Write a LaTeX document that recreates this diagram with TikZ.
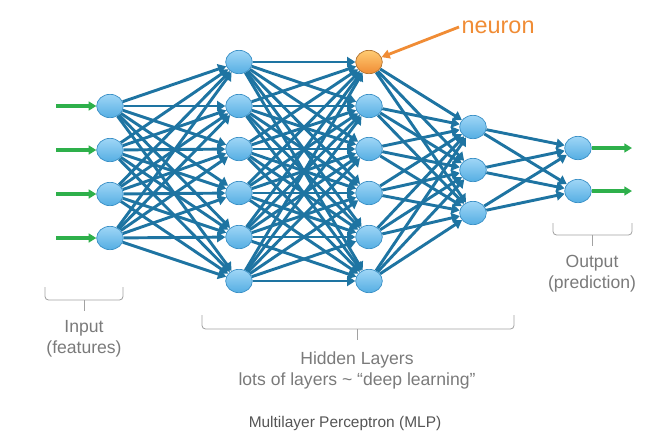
\documentclass[tikz,border=0pt]{standalone}
\usepackage{fontspec}
\setmainfont{Liberation Sans}
\setsansfont{Liberation Sans}
\usepackage{xcolor}
\usetikzlibrary{arrows.meta,positioning,backgrounds,shapes.geometric}
\definecolor{mlpedge}{HTML}{1E74A2}
\definecolor{mlprim}{HTML}{3A90C6}
\definecolor{mlptop}{HTML}{9FD6F6}
\definecolor{mlpbot}{HTML}{55AEE3}
\definecolor{mlpamber}{HTML}{F08C35}
\definecolor{mlpgold}{HTML}{FFCB72}
\definecolor{mlprust}{HTML}{B37431}
\definecolor{mlpgreen}{HTML}{2EB04B}
\definecolor{mlpgray}{HTML}{7A7A7A}
\definecolor{mlpcap}{HTML}{555555}

\begin{document}
\begin{tikzpicture}[x=0.03cm,y=-0.03cm,
  font=\sffamily,
  neuron/.style={ellipse,draw=mlprim,line width=0.6pt,top color=mlptop,
                 bottom color=mlpbot,minimum width=0.8cm,minimum height=0.7cm,
                 inner sep=0pt},
  hot/.style={neuron,draw=mlprust,top color=mlpgold,bottom color=mlpamber},
  link/.style={draw=mlpedge,line width=2.5pt,-{Triangle[length=7pt,width=8.5pt]}},
  feed/.style={draw=mlpgreen,line width=2.6pt,-{Triangle[length=6.5pt,width=7.5pt]}},
  pointer/.style={draw=mlpamber,line width=2.4pt,-{Triangle[length=7pt,width=7.5pt]}},
  brace/.style={draw=mlpgray!70,line width=0.7pt,rounded corners=3pt},
  lbl/.style={text=mlpgray,font=\sffamily\fontsize{15}{17.5}\selectfont,align=center,
              inner sep=2pt},
]
\useasboundingbox (0,0) rectangle (655,443);

% layers
\foreach \y [count=\k] in {106,150,194,238}
  \node[neuron] (in\k) at (110,\y) {};
\foreach \y [count=\k] in {62,106,149,193,237,281}
  \node[neuron] (ha\k) at (239,\y) {};
\node[hot] (hb1) at (369,62) {};
\foreach \y [count=\k from 2] in {106,149,193,237,281}
  \node[neuron] (hb\k) at (369,\y) {};
\foreach \y [count=\k] in {127,170,213}
  \node[neuron] (hc\k) at (473,\y) {};
\foreach \y [count=\k] in {148,191}
  \node[neuron] (out\k) at (578,\y) {};

% weights
\begin{scope}[on background layer]
\foreach \a in {1,...,4}
  \foreach \b in {1,...,6}
    \draw[link] (in\a) -- (ha\b);
\foreach \a in {1,...,6}
  \foreach \b in {1,...,6}
    \draw[link] (ha\a) -- (hb\b);
\foreach \a in {1,...,6}
  \foreach \b in {1,...,3}
    \draw[link] (hb\a) -- (hc\b);
\foreach \a in {1,...,3}
  \foreach \b in {1,2}
    \draw[link] (hc\a) -- (out\b);
\end{scope}

% inputs and outputs
\foreach \y [count=\k] in {106,150,194,238} {
  \coordinate (src\k) at (56,\y);
  \draw[feed] (src\k) -- (in\k);
}
\foreach \y [count=\k] in {148,191} {
  \coordinate (dst\k) at (632,\y);
  \draw[feed] (out\k) -- (dst\k);
}

% neuron callout
\node[text=mlpamber,font=\sffamily\fontsize{20}{24}\selectfont,anchor=west,
      inner sep=2pt] (tag) at (459,27) {neuron};
\draw[pointer] (tag.west) -- (hb1);

% brackets
\draw[brace] (45,287) |- (123,300) -- (123,287);
\draw[brace] (84,300) -- coordinate[pos=1] (inb) (84,311);
\node[lbl,below] (inlbl) at ([yshift=-6]inb) {Input\\(features)};

\draw[brace] (202,315) |- (514,329) -- (514,315);
\draw[brace] (357,329) -- coordinate[pos=1] (hidb) (357,340);
\node[lbl,below] (hidlbl) at ([yshift=-8]hidb)
  {Hidden Layers\\lots of layers \textasciitilde{} “deep learning”};

\draw[brace] (553,223) |- (632,235) -- (632,223);
\draw[brace] (592,235) -- coordinate[pos=1] (outb) (592,246);
\node[lbl,below] (outlbl) at ([yshift=-6]outb) {Output\\(prediction)};

\node[text=mlpcap,font=\sffamily\fontsize{13.2}{15}\selectfont] (cap) at (345,423)
  {Multilayer Perceptron (MLP)};
\end{tikzpicture}
\end{document}
